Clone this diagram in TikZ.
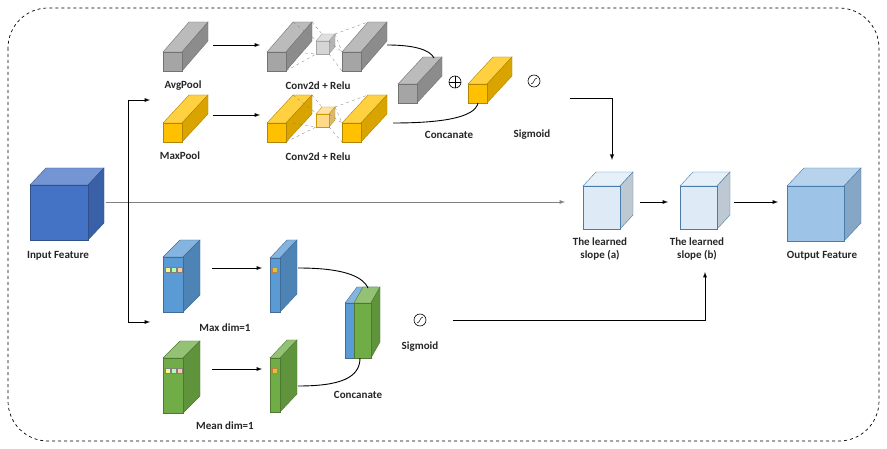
\documentclass[tikz,border=0pt]{standalone}
\usepackage{fontspec}
\setmainfont{Carlito}
\begin{document}
\begin{tikzpicture}[x=1pt,y=-1pt,
  lbl/.style={font=\bfseries\fontsize{11}{12.5}\selectfont,align=center,text=black!85},
  arr/.style={-{latex},line width=0.9pt},
  con/.style={line width=0.9pt}]
\useasboundingbox (0,0) rectangle (887,449);
\definecolor{gr}{HTML}{A5A5A5}
\definecolor{yo}{HTML}{FFC000}
\definecolor{bl}{HTML}{4472C4}
\definecolor{mb}{HTML}{5B9BD5}
\definecolor{gn}{HTML}{70AD47}
\definecolor{lb}{HTML}{DEEBF7}
\definecolor{ob}{HTML}{9DC3E6}
\definecolor{lgr}{HTML}{D5D5D5}
\definecolor{lyo}{HTML}{FFD98A}
% #1 x #2 y #3 w #4 h #5 dx #6 dy #7 fill #8 edge #9 name
\newcommand\cub[9]{%
 \fill[#7!75!white,draw=#8,line width=0.4pt] (#1,#2) -- ++(#5,-#6) -- ++(#3,0) -- ++(-#5,#6) -- cycle;
 \fill[#7!85!black,draw=#8,line width=0.4pt] (#1+#3,#2) -- ++(#5,-#6) -- ++(0,#4) -- ++(-#5,#6) -- cycle;
 \node[fill=#7,draw=#8,line width=0.4pt,minimum width=#3,minimum height=#4,inner sep=0,anchor=north west] (#9) at (#1,#2) {};}
\newcommand\sig[3]{\node[circle,draw,line width=0.6pt,minimum size=12,inner sep=0] (#3) at (#1,#2) {};
 \draw[line width=0.5pt] (#1-3,#2+3) .. controls (#1,#2+3) and (#1,#2-3) .. (#1+3,#2-3);}
\draw[dashed,line width=0.7pt,rounded corners=40] (8,8) rectangle (879,441);
% input
\cub{30}{185}{58}{55}{16}{17}{bl}{bl!70!black}{inp}
\node[lbl] (linp) at (58,256) {Input Feature};
% top branch
\cub{163}{52}{19}{19}{26}{30}{gr}{gr!70!black}{avg}
\node[lbl] (lavg) at (183,86) {AvgPool};
\cub{267}{52}{19}{19}{26}{30}{gr}{gr!70!black}{cg1}
\draw[dashed,gray,line width=0.3pt] (293,22)--(316,40) (286,71)--(316,54) (312,22)--(322,34) (293,52)--(316,54);
\cub{316}{41}{13}{13}{6}{7}{lgr}{gr}{cgs}
\draw[dashed,gray,line width=0.3pt] (335,34)--(368,22) (329,54)--(342,71) (335,34)--(342,52) (329,41)--(342,52);
\cub{342}{52}{19}{19}{26}{30}{gr}{gr!70!black}{cg2}
\node[lbl] (lc1) at (318,86) {Conv2d + Relu};
\cub{163}{123}{19}{19}{26}{28}{yo}{yo!70!black}{mxp}
\node[lbl] (lmxp) at (180,156) {MaxPool};
\cub{267}{123}{19}{19}{26}{28}{yo}{yo!70!black}{cy1}
\draw[dashed,gray,line width=0.3pt] (293,95)--(316,113) (286,142)--(316,127) (312,95)--(322,107) (293,123)--(316,127);
\cub{316}{114}{13}{13}{6}{7}{lyo}{yo!80!black}{cys}
\draw[dashed,gray,line width=0.3pt] (335,107)--(368,95) (329,127)--(342,142) (335,107)--(342,123) (329,114)--(342,123);
\cub{342}{123}{19}{19}{26}{28}{yo}{yo!70!black}{cy2}
\node[lbl] (lc2) at (318,157) {Conv2d + Relu};
\draw[arr] (213,45) -- (260,45);
\draw[arr] (213,115) -- (260,115);
\cub{398}{84}{19}{19}{25}{27}{gr}{gr!70!black}{cat1}
\cub{468}{84}{19}{19}{25}{27}{yo}{yo!70!black}{cat2}
\node[circle,draw,line width=0.6pt,minimum size=12,inner sep=0] (plus) at (455,82) {};
\draw[line width=0.5pt] (plus.north)--(plus.south) (plus.west)--(plus.east);
\sig{534}{81}{s1}
\node[lbl] (lcat) at (449,135) {Concanate};
\node[lbl] (ls1) at (532,135) {Sigmoid};
\draw[con] (387,45) .. controls (415,45) and (430,50) .. (434,58);
\draw[con] (393,123) .. controls (440,123) and (475,118) .. (478,103);
% middle
\draw[gray,-{latex},line width=0.9pt] (106,202) -- (565,202);
\cub{583}{186}{37}{43}{13}{14}{lb}{mb!80!black}{sa}
\node[lbl] (lsa) at (600,249) {The learned\\slope (a)};
\cub{680}{186}{37}{43}{13}{14}{lb}{mb!80!black}{sb}
\node[lbl] (lsb) at (697,249) {The learned\\slope (b)};
\cub{787}{186}{57}{55}{17}{18}{ob}{mb!80!black}{out}
\node[lbl] (lout) at (822,256) {Output Feature};
\draw[arr] (640,202) -- (668,202);
\draw[arr] (734,202) -- (778,202);
\draw[arr] (570,98) -| (612,160);
% branching
\draw[con] (128,100) -- (128,322);
\draw[arr] (128,100) -- (150,100);
\draw[arr] (128,322) -- (150,322);
% bottom branch
\cub{163}{257}{20}{55}{17}{17}{mb}{mb!70!black}{bmx}
\cub{270}{258}{10}{54}{17}{18}{mb}{mb!70!black}{smx}
\cub{163}{358}{20}{55}{17}{17}{gn}{gn!70!black}{bmn}
\cub{270}{358}{10}{54}{17}{18}{gn}{gn!70!black}{smn}
\foreach \yy in {267,368}{
 \fill[yellow!50!white,draw=gray,line width=0.2pt] (165,\yy) rectangle ++(5,5);
 \fill[green!30!white,draw=gray,line width=0.2pt] (171,\yy) rectangle ++(5,5);
 \fill[orange!40!white,draw=gray,line width=0.2pt] (177,\yy) rectangle ++(5,5);
 \fill[yellow!50!brown,draw=brown,line width=0.2pt] (272,\yy) rectangle ++(5,5);}
\node[lbl] (lmx) at (225,328) {Max dim=1};
\node[lbl] (lmn) at (225,426) {Mean dim=1};
\draw[arr] (212,268) -- (262,268);
\draw[arr] (212,369) -- (262,369);
\cub{345}{303}{20}{55}{12}{16}{mb}{mb!70!black}{cb}
\cub{354}{303}{17}{55}{9}{16}{gn}{gn!70!black}{cgn}
\node[lbl] (lcat2) at (358,395) {Concanate};
\draw[con] (298,268) .. controls (340,268) and (362,275) .. (368,288);
\draw[con] (298,386) .. controls (340,386) and (360,378) .. (360,358);
\sig{420}{320}{s2}
\node[lbl] (ls2) at (420,347) {Sigmoid};
\draw[arr] (453,320) -| (705,272);
\end{tikzpicture}
\end{document}
